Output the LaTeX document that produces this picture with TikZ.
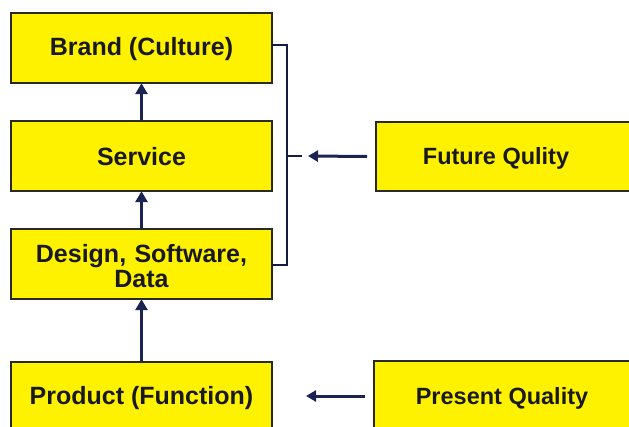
\documentclass[tikz,border=0pt]{standalone}
\usepackage{fontspec}
\setmainfont{Liberation Sans}
\usetikzlibrary{arrows.meta}
\definecolor{navy}{HTML}{1A2352}
\definecolor{boxline}{HTML}{2A2A18}
\tikzset{
  ybox/.style={draw=boxline, line width=1.8pt, fill=yellow, inner sep=0pt},
  lbl/.style={font=\fontsize{25}{25}\selectfont\bfseries, text=black!90, align=center},
  rlbl/.style={font=\fontsize{23.5}{25}\selectfont\bfseries, text=black!90},
  uparr/.style={draw=navy, line width=3pt, -{Triangle[length=11pt,width=12pt]}},
  larr/.style={draw=navy, line width=3pt, -{Triangle[length=10pt,width=11pt]}},
  brk/.style={draw=navy!80!black, line width=1.6pt},
}
\begin{document}
\begin{tikzpicture}[x=1pt,y=-1pt]
\useasboundingbox (0,0) rectangle (629,427);
\clip (0,0) rectangle (629,427);
% boxes
\draw[ybox] (11,13) rectangle (272,83);
\draw[ybox] (11,121) rectangle (272,191);
\draw[ybox] (11,229) rectangle (272,299);
\draw[ybox] (11,362) rectangle (272,440);
\draw[ybox] (376,122) rectangle (645,191);
\draw[ybox] (374,361) rectangle (645,440);
% named anchors
\node[inner sep=0pt, minimum width=261pt, minimum height=70pt] (brand) at (141.5,48) {};
\node[inner sep=0pt, minimum width=261pt, minimum height=70pt] (service) at (141.5,156) {};
\node[inner sep=0pt, minimum width=261pt, minimum height=70pt] (design) at (141.5,264) {};
\node[inner sep=0pt, minimum width=261pt, minimum height=70pt] (product) at (141.5,397) {};
\node[inner sep=0pt, minimum width=269pt, minimum height=69pt] (future) at (510.5,156.5) {};
\node[inner sep=0pt, minimum width=271pt, minimum height=70pt] (present) at (509.5,396) {};
% labels
\node[lbl] at (141.5,49) {Brand (Culture)};
\node[lbl] at (141.5,157) {Service};
\node[lbl, text width=250pt] at (141.5,266) {Design, Software,\\Data};
\node[lbl] at (141.5,398) {Product (Function)};
\node[rlbl] at (496,158) {Future Qulity};
\node[rlbl] at (502,398) {Present Quality};
% vertical arrows
\draw[uparr] (service.north) -- (brand.south);
\draw[uparr] (design.north) -- (service.south);
\draw[uparr] (product.north) -- (design.south);
% bracket
\coordinate (b1) at (272,45);
\coordinate (b2) at (287,45);
\coordinate (b3) at (287,265);
\coordinate (b4) at (272,265);
\coordinate (bm) at (286,156);
\coordinate (bt) at (302,156);
\draw[brk] (b1) -- (b2) -- (b3) -- (b4);
\draw[brk, line width=2.2pt] (bm) -- (bt);
\coordinate (fa) at (308,156);
\draw[larr] (future.west -| 367,0) -- (fa);
\coordinate (pa) at (306,396);
\draw[larr] (365,396) -- (pa);
\end{tikzpicture}
\end{document}
